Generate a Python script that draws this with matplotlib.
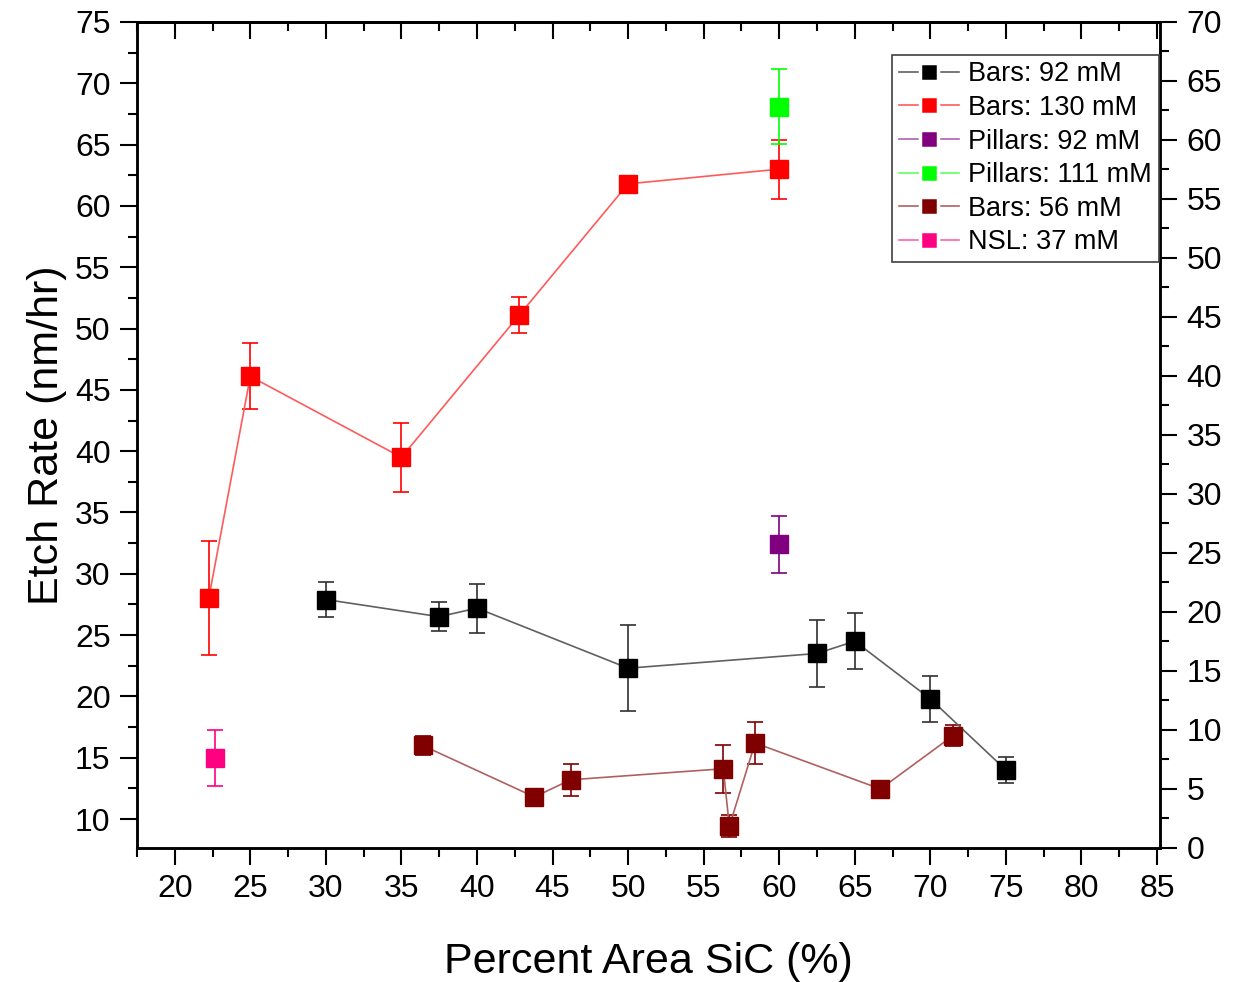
import numpy as np
import matplotlib.pyplot as plt
from matplotlib.ticker import MultipleLocator

plt.rcParams['font.family'] = ['Liberation Sans', 'DejaVu Sans']

# Bars: 92 mM
x_b92 = [30, 37.5, 40, 50, 62.5, 65, 70, 75]
y_b92 = [27.9, 26.5, 27.2, 22.3, 23.5, 24.5, 19.8, 14.0]
e_b92 = [1.4, 1.2, 2.0, 3.5, 2.7, 2.3, 1.9, 1.05]

# Bars: 130 mM
x_b130 = [22.25, 25, 35, 42.8, 50, 60]
y_b130 = [28.0, 46.1, 39.5, 51.1, 61.8, 63.0]
e_b130 = [4.65, 2.7, 2.8, 1.5, 0.0, 2.4]

# Pillars: 92 mM
x_p92 = [60]
y_p92 = [32.4]
e_p92 = [2.3]

# Pillars: 111 mM
x_p111 = [60]
y_p111 = [68.1]
e_p111 = [3.05]

# Bars: 56 mM
x_b56 = [36.4, 43.8, 46.2, 56.3, 56.7, 58.4, 66.7, 71.5]
y_b56 = [16.0, 11.8, 13.2, 14.1, 9.4, 16.2, 12.45, 16.8]
e_b56 = [0.8, 0.0, 1.3, 1.95, 0.9, 1.75, 0.0, 0.85]

# NSL: 37 mM
x_nsl = [22.65]
y_nsl = [15.0]
e_nsl = [2.3]

series = [
    (x_b92, y_b92, e_b92, 'black', '#606060', 'Bars: 92 mM'),
    (x_b130, y_b130, e_b130, 'red', '#ff5a5a', 'Bars: 130 mM'),
    (x_p92, y_p92, e_p92, 'purple', '#b060b0', 'Pillars: 92 mM'),
    (x_p111, y_p111, e_p111, '#00ff00', '#60ff60', 'Pillars: 111 mM'),
    (x_b56, y_b56, e_b56, '#800000', '#b06060', 'Bars: 56 mM'),
    (x_nsl, y_nsl, e_nsl, '#ff0080', '#ff60a8', 'NSL: 37 mM'),
]

fig = plt.figure(figsize=(12.35, 9.82), dpi=100)
ax = fig.add_axes([0.1109, 0.1365, 0.8284, 0.8411])

for x, y, e, c, lc, lab in series:
    ecol = '#303030' if c == 'black' else c
    ax.errorbar(x, y, yerr=e, fmt='none', ecolor=ecol, elinewidth=1.2,
                capsize=5.5, capthick=1.2, zorder=2)
    ax.plot(x, y, '-', color=lc, lw=1.2, marker='s', markersize=12.5,
            markerfacecolor=c, markeredgecolor=c, label=lab, zorder=3)

ax.set_xlim(17.5, 85.2)
ax.set_ylim(7.64, 75)
ax.set_xticks(np.arange(20, 86, 5))
ax.set_yticks(np.arange(10, 76, 5))
ax.xaxis.set_minor_locator(MultipleLocator(2.5))
ax.yaxis.set_minor_locator(MultipleLocator(2.5))

ax.tick_params(which='both', direction='out', width=1.5, labelsize=23)
ax.tick_params(which='major', length=12, pad=7)
ax.tick_params(which='minor', length=6.5)

for s in ax.spines.values():
    s.set_linewidth(1.8)

# top axis: inward ticks, no labels
top = ax.secondary_xaxis('top')
top.set_xticks(np.arange(20, 86, 5))
top.xaxis.set_minor_locator(MultipleLocator(2.5))
top.tick_params(which='both', direction='in', width=1.5, labeltop=False)
top.tick_params(which='major', length=12)
top.tick_params(which='minor', length=6.5)
top.spines['top'].set_linewidth(1.8)

# right axis
ax2 = ax.twinx()
ax2.set_ylim(0, 70)
ax2.yaxis.set_major_locator(MultipleLocator(5))
ax2.yaxis.set_minor_locator(MultipleLocator(2.5))
ax2.tick_params(which='both', direction='out', width=1.5, labelsize=23)
ax2.tick_params(which='major', length=12, pad=7)
ax2.tick_params(which='minor', length=6.5)
for s in ax2.spines.values():
    s.set_linewidth(1.8)

ax.set_xlabel('Percent Area SiC (%)', fontsize=31, labelpad=27)
ax.set_ylabel('Etch Rate (nm/hr)', fontsize=31, labelpad=6)

leg = ax2.legend(*ax.get_legend_handles_labels(), loc='upper right',
                 bbox_to_anchor=(0.9985, 0.9605), fontsize=19.5,
                 fancybox=False, framealpha=1, edgecolor='#404040',
                 borderpad=0.25, labelspacing=0.28, handlelength=2.2,
                 handletextpad=0.35, borderaxespad=0)
leg.get_frame().set_linewidth(1.2)
for h in leg.legend_handles:
    h.set_markersize(13)
    h.set_markeredgecolor('white')
    h.set_markeredgewidth(2.5)

fig.savefig('out.png', dpi=100)
